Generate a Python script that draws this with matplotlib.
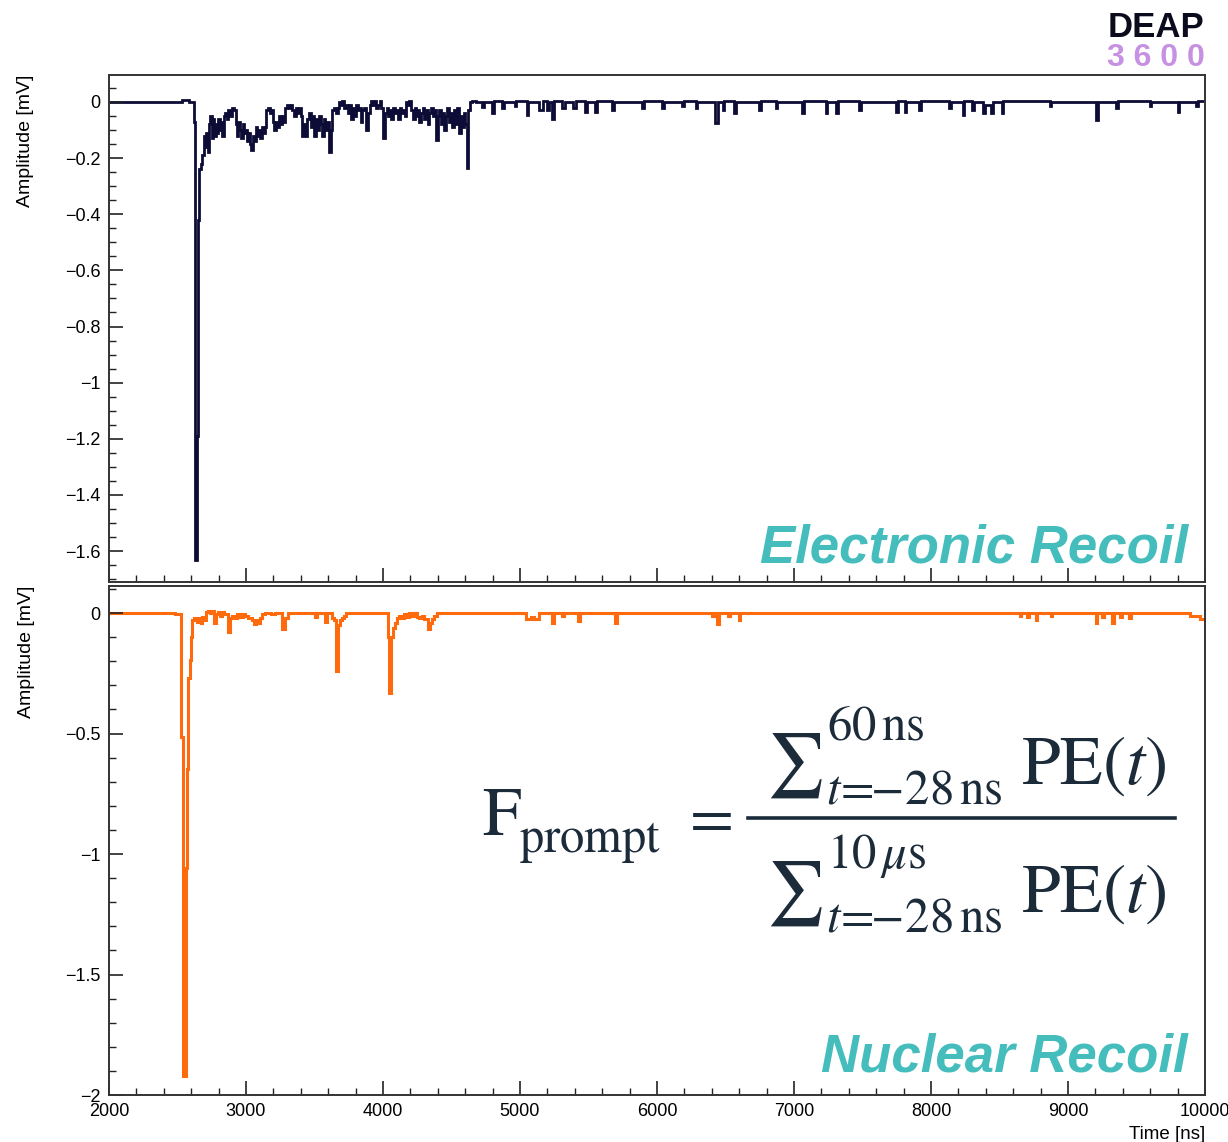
import matplotlib
matplotlib.use("Agg")
import matplotlib.pyplot as plt
from matplotlib.lines import Line2D
from matplotlib.ticker import MultipleLocator, FixedLocator
import numpy as np

# ---------------- data ----------------
# Electronic recoil waveform: bin start times [ns] and amplitudes [mV]
er_t = [2000, 2530, 2585, 2621, 2631, 2643, 2650, 2658, 2668, 2680, 2690, 2700, 2710, 2720, 2730,
        2740, 2750, 2758, 2768, 2778, 2788, 2798, 2808, 2818, 2828, 2838, 2850, 2862, 2872, 2884,
        2896, 2910, 2925, 2935, 2945, 2955, 2965, 2975, 2985, 2998, 3008, 3018, 3028, 3040, 3050,
        3060, 3072, 3082, 3092, 3104, 3116, 3128, 3140, 3148, 3160, 3172, 3185, 3196, 3208, 3218,
        3230, 3242, 3254, 3264, 3276, 3288, 3298, 3312, 3326, 3338, 3350, 3362, 3374, 3386, 3398,
        3410, 3424, 3436, 3448, 3460, 3472, 3484, 3496, 3508, 3520, 3532, 3544, 3556, 3568, 3580,
        3592, 3606, 3618, 3630, 3642, 3655, 3668, 3680, 3692, 3704, 3716, 3730, 3742, 3754, 3766,
        3778, 3790, 3802, 3814, 3826, 3838, 3850, 3862, 3876, 3890, 3902, 3914, 3926, 3938, 3950,
        3962, 3975, 3988, 4000, 4014, 4026, 4038, 4050, 4062, 4074, 4086, 4098, 4110, 4122, 4134,
        4146, 4158, 4168, 4180, 4192, 4206, 4218, 4230, 4242, 4254, 4266, 4278, 4290, 4302, 4314,
        4326, 4338, 4350, 4362, 4374, 4386, 4398, 4410, 4422, 4434, 4446, 4458, 4470, 4482, 4494,
        4506, 4518, 4530, 4542, 4554, 4566, 4578, 4590, 4602, 4612, 4624, 4636, 4650, 4680,
        4725, 4737, 4795, 4807, 4870, 4882, 4960, 4972, 5050, 5062, 5140, 5165, 5200, 5212,
        5235, 5247, 5310, 5330, 5390, 5410, 5478, 5490, 5550, 5562, 5672, 5684, 5890, 5902,
        6040, 6052, 6185, 6197, 6282, 6294, 6420, 6444, 6480, 6492, 6562, 6574, 6745, 6757,
        6865, 6877, 7060, 7072, 7232, 7244, 7310, 7322, 7475, 7487, 7745, 7760, 7808, 7820,
        7914, 7926, 8135, 8147, 8230, 8242, 8300, 8312, 8380, 8392, 8440, 8452, 8515, 8527,
        8865, 8877, 9204, 9216, 9350, 9362, 9595, 9607, 9800, 9812, 9935, 9947]
er_v = [0.0, 0.006, 0.0, -0.07, -1.63, -1.19, -0.42, -0.24, -0.22, -0.19, -0.12, -0.16, -0.11, -0.18, -0.08,
        -0.05, -0.13, -0.06, -0.12, -0.08, -0.11, -0.06, -0.10, -0.07, -0.12, -0.05, -0.04, -0.06, -0.03, -0.05,
        -0.02, -0.03, -0.08, -0.12, -0.07, -0.10, -0.13, -0.08, -0.11, -0.10, -0.14, -0.11, -0.15, -0.17, -0.12,
        -0.14, -0.09, -0.12, -0.10, -0.13, -0.09, -0.11, -0.09, -0.03, -0.02, -0.04, -0.03, -0.07, -0.10, -0.07,
        -0.09, -0.05, -0.08, -0.05, -0.07, -0.02, -0.01, -0.02, -0.01, -0.03, -0.05, -0.02, -0.04, -0.02, -0.05,
        -0.12, -0.08, -0.12, -0.06, -0.04, -0.09, -0.05, -0.12, -0.06, -0.10, -0.05, -0.08, -0.12, -0.06, -0.10,
        -0.07, -0.18, -0.10, -0.03, -0.02, -0.04, -0.02, 0.0, -0.01, 0.005, -0.02, -0.01, -0.04, -0.01, -0.06,
        -0.02, -0.05, -0.01, -0.03, -0.02, -0.07, -0.03, -0.02, -0.10, -0.04, -0.01, 0.005, -0.01, 0.003, -0.02,
        -0.01, 0.003, -0.02, -0.13, -0.04, -0.02, -0.05, -0.03, -0.06, -0.02, -0.04, -0.03, -0.06, -0.02, -0.04,
        -0.03, -0.05, 0.0, -0.01, 0.003, -0.03, -0.06, -0.02, -0.05, -0.03, -0.07, -0.04, -0.02, -0.06, -0.03,
        -0.08, -0.04, -0.02, -0.05, -0.03, -0.135, -0.05, -0.03, -0.08, -0.04, -0.10, -0.05, -0.02, -0.07, -0.04,
        -0.09, -0.03, -0.08, -0.02, -0.11, -0.05, -0.09, -0.04, -0.08, -0.235, -0.03, 0.0, 0.005, 0.0,
        -0.017, 0.0, -0.04, 0.003, -0.02, 0.0, -0.015, 0.004, -0.046, 0.0, -0.03, 0.003, -0.03, 0.0,
        -0.06, 0.003, -0.02, 0.0, -0.02, 0.004, -0.035, 0.0, -0.035, 0.003, -0.03, 0.0, -0.02, 0.004,
        -0.02, 0.0, -0.015, 0.003, -0.02, 0.0, -0.076, 0.0, -0.03, 0.003, -0.04, 0.0, -0.027, 0.004,
        -0.02, 0.0, -0.04, 0.003, -0.04, 0.0, -0.04, 0.003, -0.03, 0.0, -0.035, 0.003, -0.035, 0.0,
        -0.03, 0.004, -0.02, 0.0, -0.046, 0.003, -0.03, 0.0, -0.04, -0.01, -0.04, 0.0, -0.04, 0.003,
        -0.015, 0.0, -0.064, 0.0, -0.02, 0.003, -0.015, 0.0, -0.035, 0.0, -0.015, 0.003]

# Nuclear recoil waveform
nr_t = [2000, 2485, 2524, 2538, 2562, 2572, 2580, 2590, 2598, 2608, 2620, 2640, 2652, 2668, 2680,
        2695, 2706, 2720, 2735, 2750, 2767, 2780, 2795, 2810, 2825, 2840, 2865, 2880, 2895, 2915,
        2935, 2955, 2975, 2995, 3015, 3047, 3060, 3075, 3090, 3105, 3120, 3140, 3180, 3210, 3266,
        3282, 3303, 3505, 3517, 3575, 3590, 3625, 3640, 3660, 3672, 3686, 3700, 3715, 3729, 4033,
        4045, 4057, 4070, 4085, 4100, 4115, 4135, 4150, 4170, 4190, 4205, 4225, 4245, 4265, 4285,
        4300, 4325, 4340, 4355, 4375, 4395,
        5044, 5080, 5100, 5141, 5233, 5245, 5310, 5320, 5427, 5439, 5695, 5707, 6400, 6415,
        6438, 6450, 6520, 6532, 6596, 6608, 8648, 8660, 8700, 8712, 8763, 8775, 8873, 8885,
        9202, 9214, 9250, 9262, 9324, 9336, 9380, 9392, 9445, 9457, 9890, 9960]
nr_v = [0.0, -0.004, -0.515, -1.92, -1.057, -0.646, -0.27, -0.195, -0.10, -0.03, -0.02, -0.035, -0.02, -0.04, -0.015,
        -0.03, 0.005, 0.01, 0.0, 0.008, -0.04, -0.005, 0.005, -0.01, 0.003, -0.005, -0.08, -0.02, -0.01, -0.02,
        -0.005, -0.015, -0.005, -0.01, -0.02, -0.03, -0.045, -0.03, -0.04, -0.02, -0.005, 0.0, -0.005, 0.0, -0.065,
        -0.02, 0.0, -0.015, 0.0, -0.035, 0.0, -0.02, -0.03, -0.24, -0.05, -0.03, -0.02, -0.01, 0.0, -0.10,
        -0.33, -0.10, -0.06, -0.04, -0.02, -0.01, -0.02, -0.005, -0.015, 0.0, -0.01, 0.0, -0.015, -0.02, -0.01,
        -0.025, -0.065, -0.04, -0.025, -0.01, 0.0,
        -0.026, -0.015, -0.026, 0.0, -0.04, 0.0, -0.01, 0.0, -0.033, 0.0, -0.04, 0.0, -0.01, 0.0,
        -0.047, 0.0, -0.01, 0.0, -0.03, 0.0, -0.01, 0.0, -0.015, 0.0, -0.03, 0.0, -0.01, 0.0,
        -0.04, 0.0, -0.015, 0.0, -0.04, 0.0, -0.015, 0.0, -0.02, 0.0, -0.01, -0.025]
t_end = 10000

top_yticks = [0, -0.2, -0.4, -0.6, -0.8, -1.0, -1.2, -1.4, -1.6]
top_ylabels = ["0", "\u22120.2", "\u22120.4", "\u22120.6", "\u22120.8", "\u22121", "\u22121.2", "\u22121.4", "\u22121.6"]
bot_yticks = [0, -0.5, -1.0, -1.5, -2.0]
bot_ylabels = ["0", "\u22120.5", "\u22121", "\u22121.5", "\u22122"]
xticks = [2000, 3000, 4000, 5000, 6000, 7000, 8000, 9000, 10000]

# ---------------- figure ----------------
W, H = 1228, 1142
fig = plt.figure(figsize=(W / 100, H / 100), dpi=100)
plt.rcParams['mathtext.fontset'] = 'stix'
SANS = ['Liberation Sans', 'DejaVu Sans']

def ax_rect(l, t, r, b):
    return [l / W, 1 - b / H, (r - l) / W, (b - t) / H]

ax1 = fig.add_axes(ax_rect(109, 75, 1205, 582))
ax2 = fig.add_axes(ax_rect(109, 586, 1205, 1095))

ER_COL = '#0c0c36'
NR_COL = '#ff6a0d'
TEAL = '#45bdbd'
FCOL = '#1c2b3a'

ax1.stairs(er_v, er_t + [t_end], baseline=None, color=ER_COL, lw=2.0)
ax2.stairs(nr_v, nr_t + [t_end], baseline=None, color=NR_COL, lw=2.2)

for ax in (ax1, ax2):
    ax.set_xlim(2000, 10000)
    for s in ax.spines.values():
        s.set_linewidth(1.4)
        s.set_color('#333333')
    ax.xaxis.set_major_locator(FixedLocator(xticks))
    ax.xaxis.set_minor_locator(MultipleLocator(200))
    ax.tick_params(which='major', direction='in', length=10, width=1.2, color='#222222',
                   labelsize=13, pad=6, top=False, right=False)
    ax.tick_params(which='minor', direction='in', length=5, width=1.0, color='#222222',
                   top=False, right=False)
    ax.set_ylabel('Amplitude [mV]', loc='top', fontsize=14, family=SANS, labelpad=22)

ax1.set_ylim(-1.71, 0.096)
ax1.set_yticks(top_yticks)
ax1.set_yticklabels(top_ylabels, family=SANS)
ax1.yaxis.set_minor_locator(MultipleLocator(0.05))
ax1.tick_params(axis='x', labelbottom=False)

ax2.set_ylim(-2.0, 0.1125)
ax2.set_yticks(bot_yticks)
ax2.set_yticklabels(bot_ylabels, family=SANS)
ax2.yaxis.set_minor_locator(MultipleLocator(0.1))
xl = ax2.set_xticklabels([str(v) for v in xticks], family=SANS)
xl[-1].set_x(9975)
ax2.set_xlabel('Time [ns]', loc='right', fontsize=13.5, family=SANS, labelpad=4)

# recoil labels
fig.text(1188 / W, 1 - 548 / H, 'Electronic Recoil', ha='right', va='center', color=TEAL,
         fontsize=38, fontweight='bold', fontstyle='italic', family=SANS)
fig.text(1188 / W, 1 - 1057 / H, 'Nuclear Recoil', ha='right', va='center', color=TEAL,
         fontsize=38, fontweight='bold', fontstyle='italic', family=SANS)

# DEAP-3600 logo
fig.text(1204 / W, 1 - 37 / H, 'DEAP', ha='right', va='baseline', color='#0b0b1e',
         fontsize=25, fontweight='bold', family=SANS)
fig.text(1205 / W, 1 - 66 / H, '3 6 0 0', ha='right', va='baseline', color='#c691e3',
         fontsize=23, fontweight='bold', family=SANS)

# F_prompt formula
def ftxt(x, y, s, size, va='baseline'):
    fig.text(x / W, 1 - y / H, s, ha='left', va=va, color=FCOL, fontsize=size)

ftxt(482, 835, r'$\mathrm{F}$', 50)
ftxt(519, 852, r'$\mathrm{prompt}$', 35)
ftxt(680, 818, r'$=$', 46, va='center')
fig.add_artist(Line2D([748 / W, 1175 / W], [1 - 818 / H, 1 - 818 / H], color=FCOL, lw=2.6))
for yoff, sup in ((0, r'$60\,\mathrm{ns}$'), (128, r'$10\,\mu\mathrm{s}$')):
    ftxt(766, 766 + yoff, r'$\sum$', 46, va='center')
    ftxt(827, 740 + yoff, sup, 35)
    ftxt(826, 803 + yoff, r'$t\!=\!\!\!-\!28\,\mathrm{ns}$', 35)
    ftxt(1021, 784 + yoff, r'$\mathrm{PE}(t)$', 50)

fig.savefig('out.png', dpi=100)
